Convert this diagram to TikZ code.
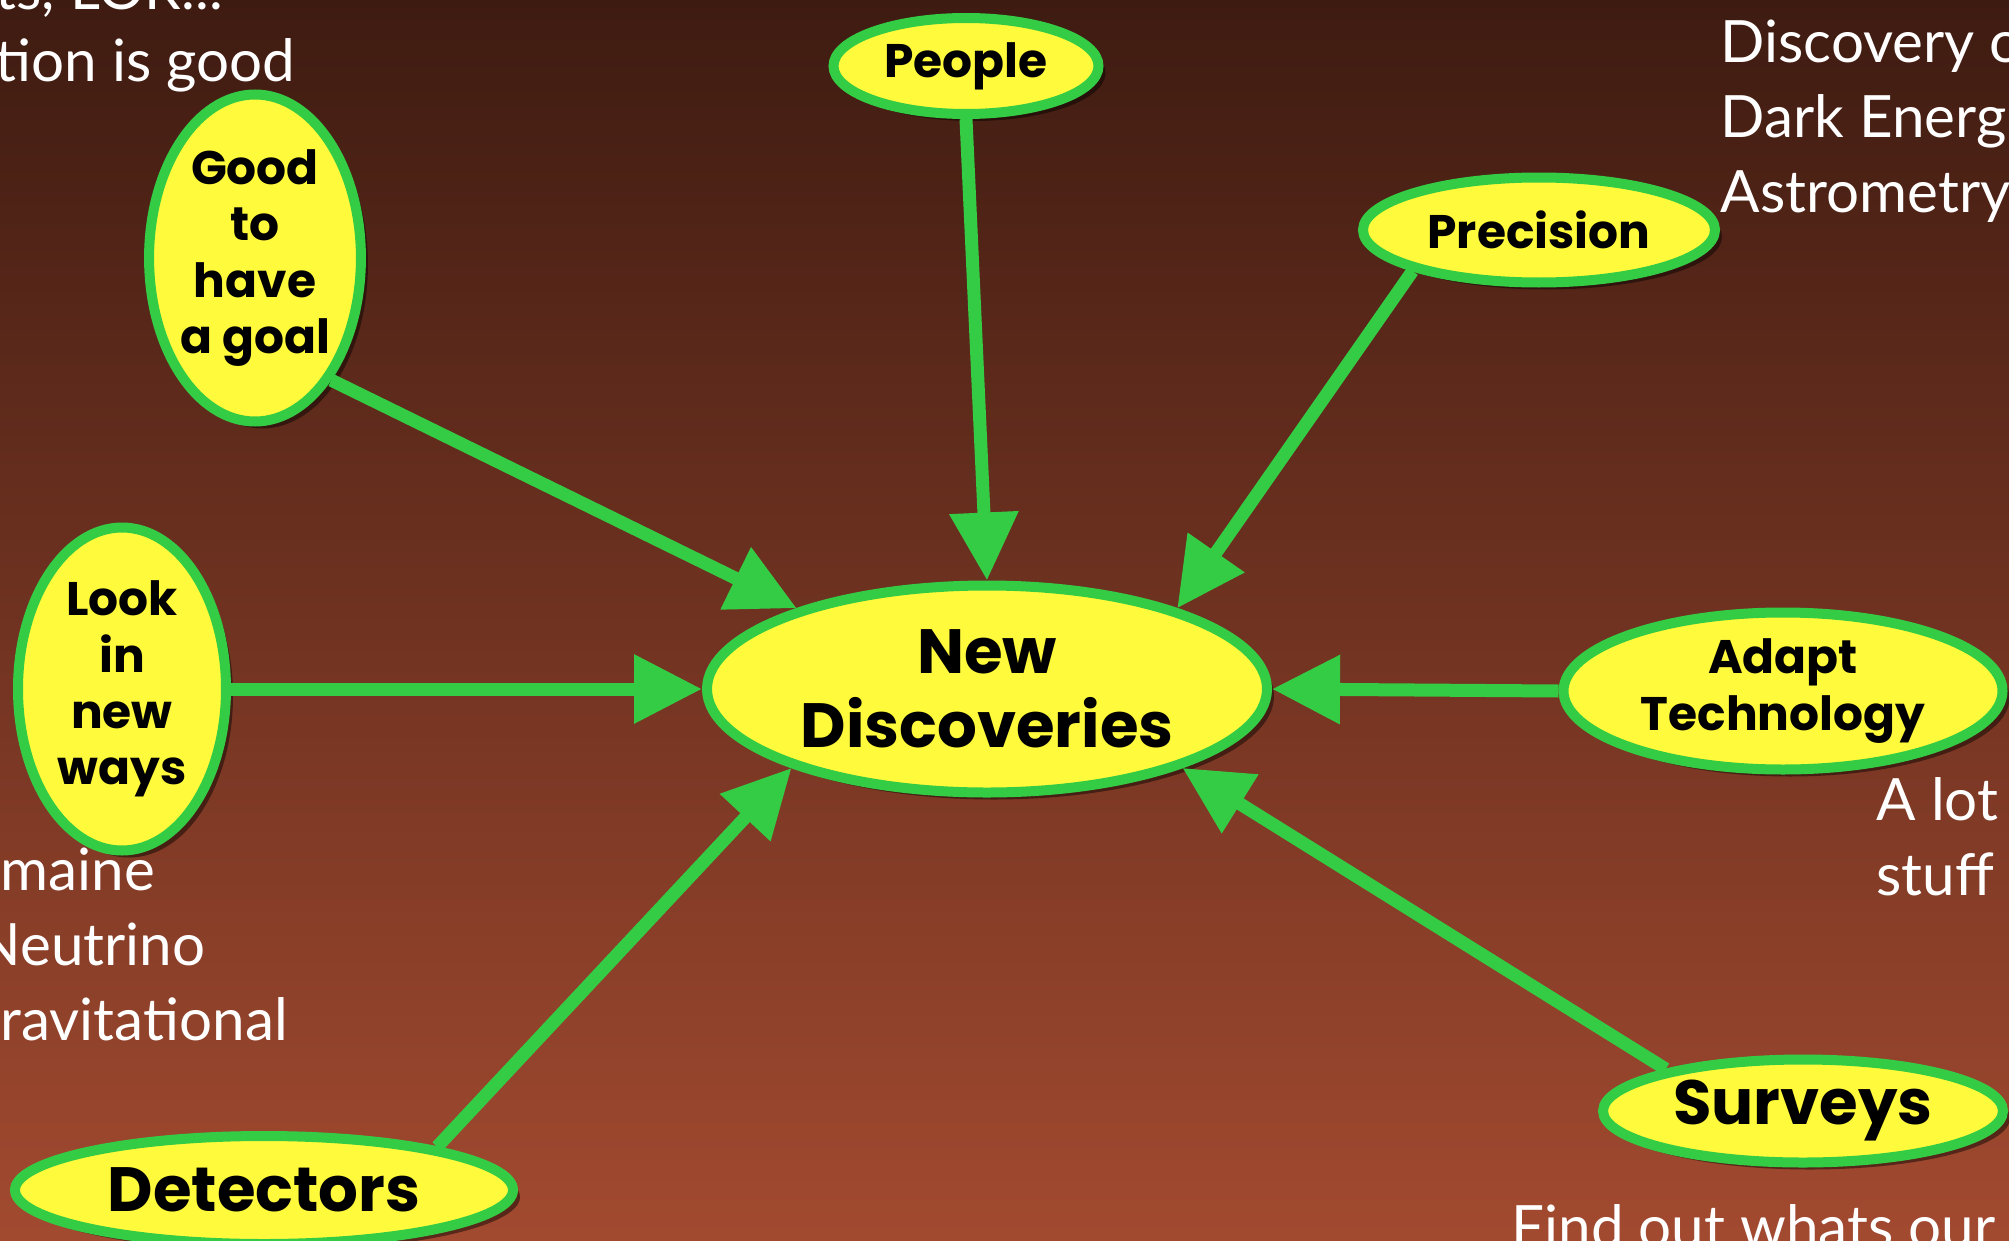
\documentclass[tikz,border=0pt]{standalone}
\usepackage{fontspec}
\setmainfont{Lato}
\newfontfamily\kabel{Poppins}
\usetikzlibrary{positioning}
\usetikzlibrary{shapes.geometric}
\usetikzlibrary{arrows.meta}
\usetikzlibrary{shadows}
\definecolor{sunyellow}{RGB}{255,250,60}
\definecolor{leafgreen}{RGB}{52,204,68}
\definecolor{bgtop}{RGB}{62,27,17}
\definecolor{bgbot}{RGB}{162,74,48}
\tikzset{
idea/.style={ellipse, draw=leafgreen, fill=sunyellow, line width=1mm, inner sep=0pt, align=center, text=black,
  drop shadow={shadow xshift=0.07cm, shadow yshift=-0.07cm, opacity=0.45, fill=black}},
small/.style={idea, font=\kabel\bfseries\fontsize{13.4}{16}\selectfont},
big/.style={idea, font=\kabel\bfseries\fontsize{17.8}{21}\selectfont},
link/.style={draw=leafgreen, line width=1.3mm, -{Triangle[length=6.8mm, width=6.6mm]}},
note/.style={text=white, inner sep=0pt, anchor=base west, font=\fontsize{16.6}{21}\selectfont},
}

\begin{document}
\begin{tikzpicture}
\useasboundingbox (0,0) rectangle (20.09,12.40);
\clip (0,0) rectangle (20.09,12.40);
\shade[top color=bgtop, bottom color=bgbot] (0,0) rectangle (20.09,12.40);
% side notes
\foreach \y/\t [count=\i] in {12.30/{ts, LOR...}, 11.58/{tion is good}}
  \node[note] (goalnote\i) at (-0.05,\y) {\t};
\foreach \y/\t [count=\i] in {11.77/{Discovery o}, 11.03/{Dark Energ}, 10.28/{Astrometry}}
  \node[note] (precnote\i) at (17.20,\y) {\t};
\foreach \x/\y/\t [count=\i] in {0.00/3.50/maine, -0.24/2.75/Neutrino, 0.00/2.00/ravitational}
  \node[note] (looknote\i) at (\x,\y) {\t};
\foreach \y/\t [count=\i] in {4.20/{A lot}, 3.45/{stuff o}}
  \node[note] (adaptnote\i) at (18.76,\y) {\t};
\node[note] (surveynote) at (15.11,-0.07) {Find out whats our};
% ideas
\node[big, minimum width=5.6cm, minimum height=2.07cm] (nd) at (9.87,5.51) {New\\Discoveries};
\node[small, minimum width=2.65cm, minimum height=0.96cm] (people) at (9.66,11.74) {People};
\node[small, minimum width=3.52cm, minimum height=1.05cm] (prec) at (15.39,10.10) {Precision};
\node[small, minimum width=2.10cm, minimum height=3.27cm] (goal) at (2.55,9.82) {Good\\to\\have\\a goal};
\node[small, minimum width=2.08cm, minimum height=3.23cm] (look) at (1.22,5.51) {Look\\in\\new\\ways};
\node[small, minimum width=4.39cm, minimum height=1.57cm] (adapt) at (17.83,5.49) {Adapt\\Technology};
\node[big, minimum width=4.00cm, minimum height=1.03cm] (surveys) at (18.03,1.29) {Surveys};
\node[big, minimum width=4.98cm, minimum height=1.08cm] (det) at (2.64,0.50) {Detectors};
% links
\draw[link] (people.south) -- (nd.north);
\draw[link] (prec.198) -- (nd.23);
\draw[link] (goal.302) -- (nd.157);
\draw[link] (look.east) -- (nd.west);
\draw[link] (adapt.west) -- (nd.east);
\draw[link] (surveys.163) -- (nd.338);
\draw[link] (det.14) -- (nd.202);
\end{tikzpicture}
\end{document}
